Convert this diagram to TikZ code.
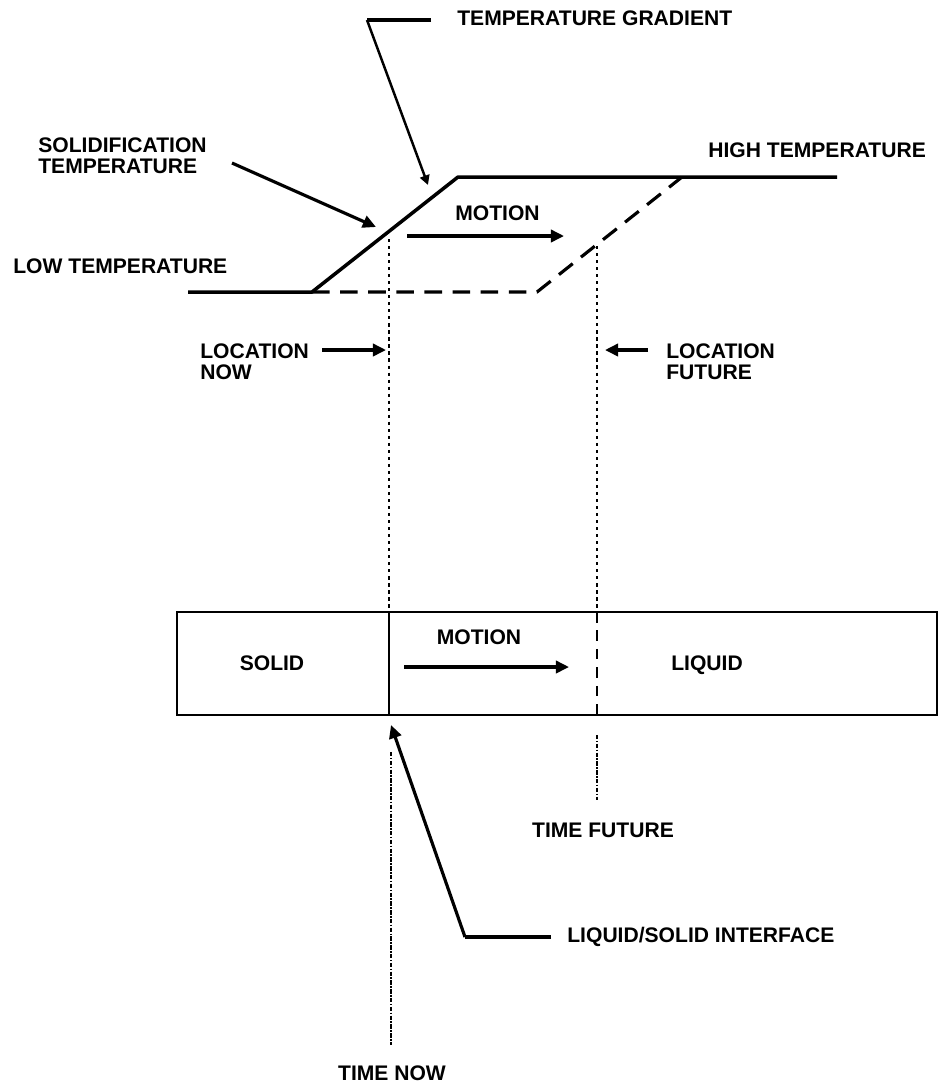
\documentclass[tikz,border=0pt]{standalone}
\usepackage{fontspec}
\setmainfont{Liberation Sans}
\usetikzlibrary{arrows.meta,positioning}

\tikzset{
    lbl/.style={font=\fontsize{12}{12}\selectfont\bfseries, inner sep=0pt, align=left},
    curve/.style={line width=2pt, line join=round},
    leader/.style={line width=1.5pt, line join=round},
    arr/.style={line width=1.8pt, -{Triangle[length=7.5pt,width=7pt]}},
    smallarr/.style={line width=1.4pt, -{Triangle[length=5.5pt,width=5.5pt]}},
    locline/.style={line width=1.7pt, dash pattern=on 1.8pt off 2.2pt},
    timeline/.style={line width=1.7pt, dash pattern=on 2.5pt off 0.8pt on 0.9pt off 0.8pt},
    futline/.style={line width=1.4pt, dash pattern=on 6pt off 4.5pt},
}

\begin{document}
\begin{tikzpicture}[x=0.02cm, y=-0.02cm]
    \useasboundingbox (0,0) rectangle (940,1090);

    % Temperature profile now
    \coordinate (lowL) at (188,292);
    \coordinate (lowR) at (312,292);
    \coordinate (highL) at (458,177);
    \coordinate (highR) at (837,177);
    \draw[curve] (lowL) -- (lowR) -- (highL) -- (highR);

    % Temperature profile later (shifted)
    \coordinate (futL) at (537,292);
    \coordinate (futR) at (682,177);
    \draw[curve, line width=1.8pt, dash pattern=on 10pt off 6pt] (lowR) -- (futL) -- (futR);

    % Labels of the profile
    \node[lbl, anchor=west] (tgrad) at (457,18) {TEMPERATURE GRADIENT};
    \node[lbl, anchor=west] (soltemp) at (38,156) {SOLIDIFICATION\\TEMPERATURE};
    \node[lbl, anchor=west] (hightemp) at (708,150) {HIGH TEMPERATURE};
    \node[lbl, anchor=west] (lowtemp) at (13,266) {LOW TEMPERATURE};
    \node[lbl, anchor=west] (motiontop) at (455,213) {MOTION};

    % Leaders
    \coordinate (tgEnd) at (431,20);
    \coordinate (tgKnee) at (367,20);
    \coordinate (tgTip) at (428,185);
    \draw[leader, line width=1.8pt] (tgEnd) -- (tgKnee);
    \draw[smallarr] (tgKnee) -- (tgTip);

    \coordinate (stStart) at (232,163);
    \coordinate (stTip) at (376,227);
    \draw[arr] (stStart) -- (stTip);

    \coordinate (mtStart) at (407,236);
    \coordinate (mtEnd) at (564,236);
    \draw[arr] (mtStart) -- (mtEnd);

    % Locations now and future
    \coordinate (nowTop) at (389,239);
    \coordinate (futTop) at (597,246);
    \coordinate (nowBox) at (389,612);
    \coordinate (futBox) at (597,612);
    \draw[locline] (nowTop) -- (nowBox);
    \draw[locline] (futTop) -- (futBox);

    \node[lbl, anchor=west] (locnow) at (200,362) {LOCATION\\NOW};
    \node[lbl, anchor=west] (locfut) at (666,362) {LOCATION\\FUTURE};
    \coordinate (lnStart) at (322,350);
    \coordinate (lnTip) at (386,350);
    \coordinate (lfStart) at (648,350);
    \coordinate (lfTip) at (605,350);
    \draw[arr] (lnStart) -- (lnTip);
    \draw[arr] (lfStart) -- (lfTip);

    % Bar: solid | liquid
    \coordinate (boxNW) at (177,612);
    \coordinate (boxSE) at (937,715);
    \coordinate (nowBot) at (389,715);
    \coordinate (futBot) at (597,715);
    \draw[line width=1.6pt] (boxNW) rectangle (boxSE);
    \draw[line width=1.4pt] (nowBox) -- (nowBot);
    \draw[futline] (futBox) -- (futBot);

    \node[lbl] (solid) at (272,663) {SOLID};
    \node[lbl] (motionbar) at (479,637) {MOTION};
    \node[lbl] (liquid) at (707,665) {LIQUID};
    \coordinate (mbStart) at (404,667);
    \coordinate (mbEnd) at (569,667);
    \draw[arr] (mbStart) -- (mbEnd);

    % Times
    \coordinate (tnTop) at (391,752);
    \coordinate (tnBot) at (391,1045);
    \coordinate (tfTop) at (597,735);
    \coordinate (tfBot) at (597,800);
    \draw[timeline] (tnTop) -- (tnBot);
    \draw[timeline] (tfTop) -- (tfBot);
    \node[lbl] (timefut) at (603,830) {TIME FUTURE};
    \node[lbl] (timenow) at (392,1073) {TIME NOW};

    % Interface leader
    \node[lbl, anchor=west] (iface) at (567,937) {LIQUID/SOLID INTERFACE};
    \coordinate (ifEnd) at (551,937);
    \coordinate (ifKnee) at (465,937);
    \coordinate (ifTip) at (391,725);
    \draw[leader, line width=1.8pt] (ifEnd) -- (ifKnee);
    \draw[arr] (ifKnee) -- (ifTip);
\end{tikzpicture}
\end{document}
